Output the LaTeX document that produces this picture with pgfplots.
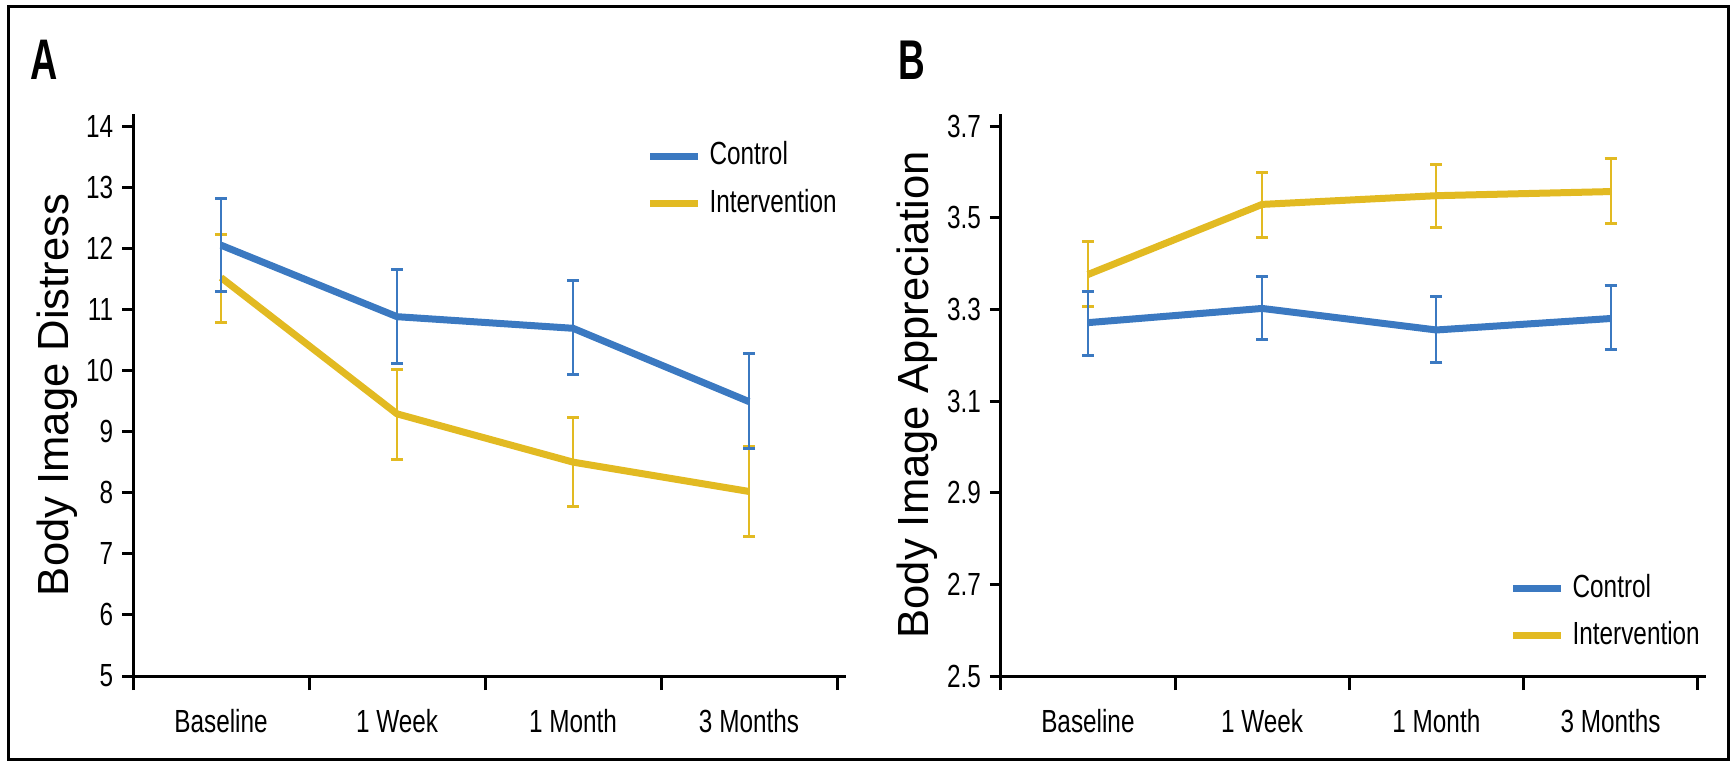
\documentclass[border=0pt]{standalone}
\usepackage{pgfplots}
\pgfplotsset{compat=1.18}
\usepackage{fontspec}
\setmainfont{Liberation Sans}
\newfontfamily\cond[FakeStretch=0.76]{Liberation Sans}
\newfontfamily\condb[FakeStretch=0.66]{Liberation Sans}
\definecolor{ctrl}{RGB}{59,121,193}
\definecolor{intv}{RGB}{226,186,34}
\pgfplotsset{
  myax/.style={
    scale only axis,
    height=140.55pt,
    xmin=-0.5, xmax=3.55,
    axis x line*=bottom, axis y line*=left,
    axis line style={-, line width=0.75pt},
    xtick={0,1,2,3},
    xticklabels={Baseline,1 Week,1 Month,3 Months},
    major x tick style={draw=none},
    minor xtick={-0.5,0.5,1.5,2.5,3.5},
    minor tick length=3.5pt,
    major tick length=2.75pt,
    tick align=outside,
    tick style={black, line width=0.75pt},
    ticklabel style={font=\cond\fontsize{8}{9.5}\selectfont},
    /pgf/number format/assume math mode=true,
    yticklabel style={inner sep=2pt},
    xticklabel style={inner sep=2pt, yshift=-3.5pt},
    ylabel style={font=\fontsize{10.9}{13}\selectfont, anchor=center},
    legend cell align=left,
    legend style={draw=none, fill=none, font=\cond\fontsize{8}{9.5}\selectfont, anchor=north west, row sep=0.5pt, inner sep=0pt},
    legend image code/.code={\draw[line width=1.75pt] (0pt,0pt) -- (12pt,0pt);},
    reverse legend,
    clip=false,
  },
  ebar/.style={#1, line width=1.75pt, no markers, line join=round,
    error bars/.cd, y dir=both, y explicit,
    error bar style={line width=0.5pt, solid, #1},
    error mark options={rotate=90, mark size=1.5pt, line width=0.75pt, solid, #1}},
}
\begin{document}
\begin{tikzpicture}
\useasboundingbox (0,0) rectangle (433.75pt,190.5pt);
\draw[line width=0.75pt] (2pt,0.75pt) rectangle (432pt,188.75pt);
\node[anchor=base west, font=\condb\bfseries\fontsize{14.3}{16}\selectfont, inner sep=0pt] at (7.5pt,170.5pt) {A};
\node[anchor=base west, font=\condb\bfseries\fontsize{14}{16}\selectfont, inner sep=0pt] at (224.5pt,170.5pt) {B};

\begin{axis}[myax,
  at={(33.25pt,21.5pt)}, anchor=south west,
  width=178.2pt,
  ymin=5, ymax=14.2,
  ytick={5,6,7,8,9,10,11,12,13,14},
  ylabel={Body Image Distress},
  ylabel style={at={(axis description cs:-0.1066,0.5)}},
  legend style={at={(axis description cs:0.7193,0.966)}},
]
\addplot[ebar=intv] coordinates {
  (0,11.52) += (0,0.70) -= (0,0.74)
  (1,9.29) += (0,0.73) -= (0,0.74)
  (2,8.50) += (0,0.73) -= (0,0.73)
  (3,8.02) += (0,0.73) -= (0,0.74)
};
\addlegendentry{Intervention}
\addplot[ebar=ctrl] coordinates {
  (0,12.05) += (0,0.77) -= (0,0.75)
  (1,10.88) += (0,0.77) -= (0,0.77)
  (2,10.69) += (0,0.78) -= (0,0.76)
  (3,9.49) += (0,0.78) -= (0,0.77)
};
\addlegendentry{Control}
\end{axis}

\begin{axis}[myax,
  at={(250.2pt,21.5pt)}, anchor=south west,
  width=176.4pt,
  ymin=2.5, ymax=3.72667,
  ytick={2.5,2.7,2.9,3.1,3.3,3.5,3.7},
  yticklabels={2.5,2.7,2.9,3.1,3.3,3.5,3.7},
  ylabel={Body Image Appreciation},
  ylabel style={at={(axis description cs:-0.1186,0.5)}},
  legend style={at={(axis description cs:0.72,0.197)}},
]
\addplot[ebar=intv] coordinates {
  (0,3.376) += (0,0.071) -= (0,0.070)
  (1,3.529) += (0,0.070) -= (0,0.072)
  (2,3.548) += (0,0.069) -= (0,0.069)
  (3,3.557) += (0,0.073) -= (0,0.070)
};
\addlegendentry{Intervention}
\addplot[ebar=ctrl] coordinates {
  (0,3.271) += (0,0.069) -= (0,0.071)
  (1,3.302) += (0,0.070) -= (0,0.068)
  (2,3.255) += (0,0.072) -= (0,0.070)
  (3,3.280) += (0,0.071) -= (0,0.067)
};
\addlegendentry{Control}
\end{axis}
\end{tikzpicture}
\end{document}
